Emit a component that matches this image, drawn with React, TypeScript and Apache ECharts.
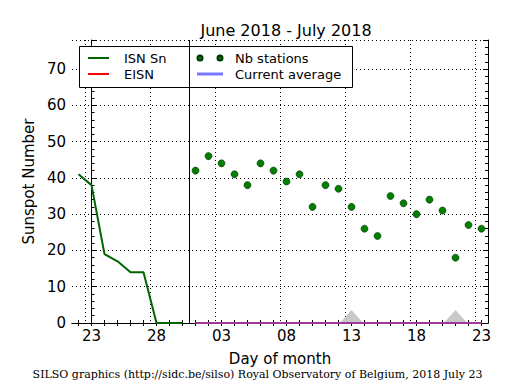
import React, { useEffect, useRef } from 'react';
import * as echarts from 'echarts';

// Days shown on the category axis (June 22 .. July 23)
const dayLabels = ['22','23','24','25','26','27','28','29','30','01','02','03','04','05','06','07','08','09','10','11','12','13','14','15','16','17','18','19','20','21','22','23'];
// Offsets in days from June 23
const isnDays = [-1, 0, 1, 2, 3, 4, 5, 6, 7];
const isnValues = [41, 38, 19, 17, 14, 14, 0, 0, 0];
const stationDays = [8, 9, 10, 11, 12, 13, 14, 15, 16, 17, 18, 19, 20, 21, 22, 23, 24, 25, 26, 27, 28, 29, 30];
const stationValues = [42, 46, 44, 41, 38, 44, 42, 39, 41, 32, 38, 37, 32, 26, 24, 35, 33, 30, 34, 31, 18, 27, 26];
const eisnDays = [8, 30];
const eisnValues = [0, 0];
const avgDays = [8, 30];
const avgValues = [0, 0];
const triangleDays = [20, 28];
const triangleHeight = 3.6;
const dividerDay = 7.5;
const yTicks = { min: 0, max: 78, interval: 10 };

const FONT = 'DejaVu Sans';

export default function App() {
  const ref = useRef<HTMLDivElement>(null);
  useEffect(() => {
    const chart = echarts.init(ref.current!, null, { renderer: 'svg' });
    const labelShow = (i: number) => i % 5 === 1;
    const option: any = {
      animation: false,
      backgroundColor: '#fff',
      title: {
        text: 'June 2018 - July 2018',
        left: 281, top: 17, textAlign: 'center',
        textStyle: { fontFamily: FONT, fontSize: 16, fontWeight: 'normal', color: '#000' },
      },
      grid: { left: 72, right: 27, top: 40, bottom: 67, containLabel: false },
      legend: [
        {
          left: 83, top: 46, orient: 'vertical', itemGap: 2, itemWidth: 21, itemHeight: 2, z: 6,
          data: [
            { name: 'ISN Sn', icon: 'rect' },
            { name: 'EISN', icon: 'rect' },
          ],
          textStyle: { fontFamily: FONT, fontSize: 13, lineHeight: 14, color: '#000', padding: [0, 0, 0, 10] },
        },
        {
          left: 191, top: 46, orient: 'vertical', itemGap: 2, itemWidth: 26, itemHeight: 6, z: 6,
          data: [
            { name: 'Nb stations', icon: 'path://M0,0M26,6M0.5,3a2.5,2.5 0 1,0 5,0a2.5,2.5 0 1,0 -5,0zM20.5,3a2.5,2.5 0 1,0 5,0a2.5,2.5 0 1,0 -5,0z' },
            { name: 'Current average', icon: 'path://M0,0M26,6M0,1.5H26V4.5H0Z' },
          ],
          textStyle: { fontFamily: FONT, fontSize: 13, lineHeight: 14, color: '#000', padding: [0, 0, 0, 7] },
        },
      ],
      graphic: [
        { type: 'rect', shape: { x: 79.5, y: 46.5, width: 273, height: 41 }, style: { fill: '#fff', stroke: '#000', lineWidth: 1 }, z: 5 },
        {
          type: 'text', left: 'center', top: 369,
          style: { text: 'SILSO graphics (http://sidc.be/silso) Royal Observatory of Belgium, 2018 July 23', font: '11px "DejaVu Serif"', fill: '#000' },
        },
      ],
      xAxis: [
        {
          type: 'category', data: dayLabels, position: 'bottom', boundaryGap: true,
          name: 'Day of month', nameLocation: 'middle', nameGap: 28,
          nameTextStyle: { fontFamily: FONT, fontSize: 15, color: '#000' },
          axisLine: { lineStyle: { color: '#000', width: 1 } },
          axisTick: { show: true, inside: true, length: 3, interval: 0, alignWithLabel: true, lineStyle: { color: '#000' } },
          axisLabel: { interval: (i: number) => labelShow(i), fontFamily: FONT, fontSize: 15, color: '#000', margin: 5 },
          splitLine: { show: true, interval: (i: number) => labelShow(i), lineStyle: { color: '#000', type: [1, 3], width: 1 } },
        },
        {
          type: 'category', data: dayLabels, position: 'top', boundaryGap: true,
          axisLine: { lineStyle: { color: '#000', width: 1 } },
          axisTick: { show: true, inside: true, length: 3, interval: 0, alignWithLabel: true, lineStyle: { color: '#000' } },
          axisLabel: { show: false },
          splitLine: { show: false },
        },
        {
          type: 'value', min: -1.5, max: 30.5, show: false,
          splitLine: { show: false },
        },
      ],
      yAxis: [
        {
          type: 'value', min: yTicks.min, max: yTicks.max, interval: yTicks.interval,
          name: 'Sunspot Number', nameLocation: 'middle', nameGap: 35,
          nameTextStyle: { fontFamily: FONT, fontSize: 15, color: '#000' },
          axisLine: { show: true, lineStyle: { color: '#000' } },
          axisTick: { show: true, inside: true, length: 5, lineStyle: { color: '#000' } },
          minorTick: { show: true, splitNumber: 5, length: 3, lineStyle: { color: '#000' } },
          axisLabel: { fontFamily: FONT, fontSize: 15, color: '#000', margin: 6, showMaxLabel: false },
          splitLine: { show: true, lineStyle: { color: '#000', type: [1, 3], width: 1 } },
        },
        {
          type: 'value', min: yTicks.min, max: yTicks.max, interval: yTicks.interval, position: 'right',
          axisLine: { show: true, lineStyle: { color: '#000' } },
          axisTick: { show: true, inside: true, length: 5, lineStyle: { color: '#000' } },
          minorTick: { show: true, splitNumber: 5, length: 3, lineStyle: { color: '#000' } },
          axisLabel: { show: false },
          splitLine: { show: false },
        },
      ],
      series: [
        {
          type: 'custom', name: 'marks', xAxisIndex: 2, yAxisIndex: 0, silent: true, z: 1,
          data: triangleDays.map((d) => [d, triangleHeight]),
          renderItem: (params: any, api: any) => {
            const x = api.value(0);
            const h = api.value(1);
            const p1 = api.coord([x - 0.9, 0]);
            const p2 = api.coord([x, h]);
            const p3 = api.coord([x + 0.9, 0]);
            return { type: 'polygon', shape: { points: [p1, p2, p3] }, style: { fill: '#c8c8c8', stroke: 'none' } };
          },
        },
        {
          type: 'line', name: 'ISN Sn', xAxisIndex: 2, yAxisIndex: 0,
          data: isnDays.map((d, i) => [d, isnValues[i]]),
          showSymbol: false, symbol: 'none', color: '#006400', lineStyle: { color: '#006400', width: 2 }, z: 3,
        },
        {
          type: 'line', name: 'EISN', xAxisIndex: 2, yAxisIndex: 0,
          data: eisnDays.map((d, i) => [d, eisnValues[i]]),
          showSymbol: false, symbol: 'none', color: '#ff0000', lineStyle: { color: '#ff0000', width: 2 }, z: 3,
        },
        {
          type: 'line', name: 'Current average', xAxisIndex: 2, yAxisIndex: 0,
          data: avgDays.map((d, i) => [d, avgValues[i]]),
          showSymbol: false, symbol: 'none', color: '#7777ff', lineStyle: { color: '#6060ff', width: 2, opacity: 0.6 }, z: 4,
        },
        {
          type: 'scatter', name: 'Nb stations', xAxisIndex: 2, yAxisIndex: 0,
          data: stationDays.map((d, i) => [d, stationValues[i]]),
          symbol: 'circle', symbolSize: 7, color: '#007a00',
          itemStyle: { color: '#007f00', borderColor: '#003300', borderWidth: 0.6, opacity: 1 }, z: 5,
          markLine: {
            silent: true, symbol: 'none', label: { show: false },
            lineStyle: { color: '#000', type: 'solid', width: 1 },
            data: [{ xAxis: dividerDay }],
          },
        },
      ],
    };
    chart.setOption(option);
    return () => chart.dispose();
  }, []);
  return <div ref={ref} style={{ position: 'fixed', left: 0, top: 0, width: 515, height: 390 }} />;
}
